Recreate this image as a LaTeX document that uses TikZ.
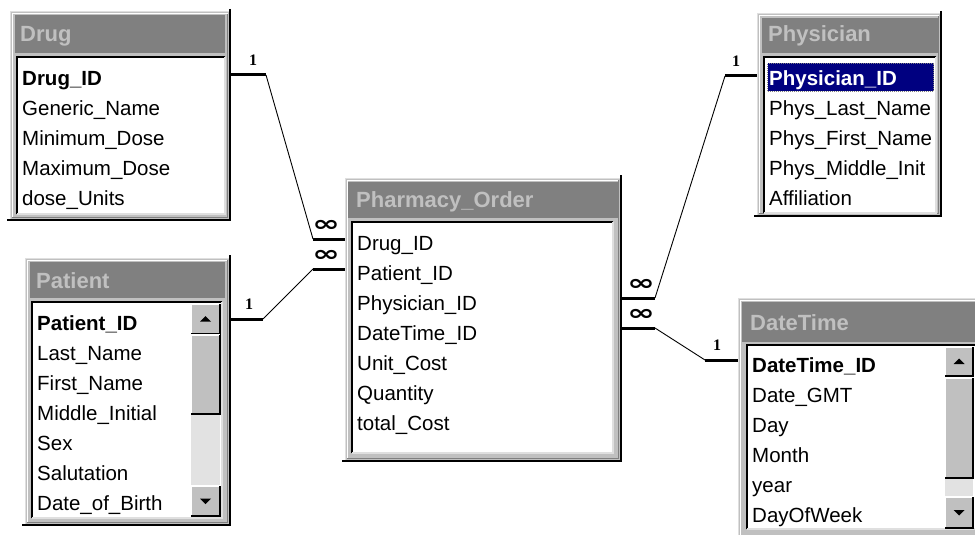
\documentclass[tikz,border=0pt]{standalone}
\usepackage{fontspec}
\setmainfont{Liberation Sans}
\newfontfamily\symfont{DejaVu Sans}
\newfontfamily\onefont{Liberation Serif}

\definecolor{winface}{HTML}{C0C0C0}
\definecolor{winshade}{HTML}{808080}
\definecolor{winlight}{HTML}{DFDFDF}
\definecolor{navysel}{HTML}{000080}
\definecolor{tracktone}{HTML}{E2E2E2}

\tikzset{
  winframe/.style={draw=winlight, line width=1pt, fill=winface, inner sep=0, outer sep=0, anchor=north west},
  titlebar/.style={fill=winshade, inner sep=0, outer sep=0, anchor=north west},
  listbox/.style={fill=white, inner sep=0, outer sep=0, anchor=north west},
  btn/.style={fill=winface, inner sep=0, outer sep=0, anchor=north west},
  trackbox/.style={fill=tracktone, inner sep=0, outer sep=0, anchor=north west},
  fieldtext/.style={anchor=base west, inner sep=0, font=\fontsize{20.5}{24}\selectfont},
  keytext/.style={anchor=base west, inner sep=0, font=\fontsize{20.5}{24}\selectfont\bfseries},
  titletext/.style={anchor=base west, inner sep=0, text=winface, font=\fontsize{22}{26}\selectfont\bfseries},
  onelabel/.style={inner sep=0, font=\fontsize{16}{18}\selectfont\onefont\bfseries},
  manylabel/.style={inner sep=0, font=\fontsize{22}{24}\selectfont\symfont\bfseries},
  stub/.style={line width=3pt, line cap=butt},
  link/.style={line width=0.9pt},
}

% raised window frame with a dark edge on the right and bottom
\newcommand{\tableframe}[1]{%
  \draw[white, line width=1pt] ([xshift=2pt,yshift=2.5pt]#1.south west) -- ([xshift=2pt,yshift=-2pt]#1.north west) -- ([xshift=-2.5pt,yshift=-2pt]#1.north east);
  \draw[winshade, line width=1pt] ([xshift=-2.5pt,yshift=-2pt]#1.north east) -- ([xshift=-2.5pt,yshift=2.5pt]#1.south east) -- ([xshift=2pt,yshift=2.5pt]#1.south west);
  \draw[black, line width=2pt] ([yshift=3pt]#1.north east) -- (#1.south east) -- ([xshift=-3pt]#1.south west);}

% two-tone edge of a box: #2 on top/left, #3 on bottom/right
\newcommand{\bevel}[4]{%
  \draw[#2, line width=#4] (#1.south west) -- (#1.north west) -- (#1.north east);
  \draw[#3, line width=#4] (#1.north east) -- (#1.south east) -- (#1.south west);}

% scroll arrows
\newcommand{\uparrowmark}[1]{\fill (#1.center) ++(-5.5,2.5) -- ++(11,0) -- ++(-5.5,-5.5) -- cycle;}
\newcommand{\downarrowmark}[1]{\fill (#1.center) ++(-5.5,-2.5) -- ++(11,0) -- ++(-5.5,5.5) -- cycle;}

% "many" end mark
\newcommand{\manymark}{\scalebox{1.5}[1]{∞}}

\begin{document}
\begin{tikzpicture}[x=1pt,y=-1pt]
\useasboundingbox (0,0) rectangle (975,535);
\fill[white] (0,0) rectangle (975,535);
\clip (0,0) rectangle (975,535);

%% ---------------- Drug ----------------
\node[winframe, minimum width=220pt, minimum height=208pt] (drug) at (10,12) {};
\tableframe{drug}
\node[titlebar, minimum width=210pt, minimum height=38pt] (drug-bar) at (15,15) {};
\node[titletext] (drug-title) at (20,42) {Drug};
\node[listbox, minimum width=208pt, minimum height=157pt] (drug-list) at (17,57) {};
\bevel{drug-list}{black}{winlight}{1.5pt}
\node[keytext] (drug-f1) at (22,85.5) {Drug\_ID};
\node[fieldtext] (drug-f2) at (22,115.5) {Generic\_Name};
\node[fieldtext] (drug-f3) at (22,145.5) {Minimum\_Dose};
\node[fieldtext] (drug-f4) at (22,175.5) {Maximum\_Dose};
\node[fieldtext] (drug-f5) at (22,205.5) {dose\_Units};

%% ---------------- Patient ----------------
\node[winframe, minimum width=205pt, minimum height=267pt] (patient) at (25,258) {};
\tableframe{patient}
\node[titlebar, minimum width=195pt, minimum height=36pt] (patient-bar) at (30,262) {};
\node[titletext] (patient-title) at (36,288) {Patient};
\node[listbox, minimum width=190pt, minimum height=216pt] (patient-list) at (32,302) {};
\bevel{patient-list}{black}{winlight}{1.5pt}
\node[keytext] (patient-f1) at (37,330.5) {Patient\_ID};
\node[fieldtext] (patient-f2) at (37,360.5) {Last\_Name};
\node[fieldtext] (patient-f3) at (37,390.5) {First\_Name};
\node[fieldtext] (patient-f4) at (37,420.5) {Middle\_Initial};
\node[fieldtext] (patient-f5) at (37,450.5) {Sex};
\node[fieldtext] (patient-f6) at (37,480.5) {Salutation};
\node[fieldtext] (patient-f7) at (37,510.5) {Date\_of\_Birth};
% scroll bar
\node[trackbox, minimum width=29pt, minimum height=212pt] (patient-track) at (191,304) {};
\node[btn, minimum width=29pt, minimum height=30pt] (patient-up) at (191,304) {};
\bevel{patient-up}{white}{black}{1.3pt}
\uparrowmark{patient-up}
\node[btn, minimum width=29pt, minimum height=79pt] (patient-thumb) at (191,335) {};
\bevel{patient-thumb}{white}{black}{1.3pt}
\node[btn, minimum width=29pt, minimum height=30pt] (patient-down) at (191,486) {};
\bevel{patient-down}{white}{black}{1.3pt}
\downarrowmark{patient-down}

%% ---------------- Pharmacy_Order ----------------
\node[winframe, minimum width=276pt, minimum height=283pt] (order) at (345,178) {};
\tableframe{order}
\node[titlebar, minimum width=270pt, minimum height=36pt] (order-bar) at (348,182) {};
\node[titletext] (order-title) at (356,207) {Pharmacy\_Order};
\node[listbox, minimum width=261pt, minimum height=231pt] (order-list) at (352,222) {};
\bevel{order-list}{black}{winlight}{1.5pt}
\node[fieldtext] (order-f1) at (357,250.5) {Drug\_ID};
\node[fieldtext] (order-f2) at (357,280.5) {Patient\_ID};
\node[fieldtext] (order-f3) at (357,310.5) {Physician\_ID};
\node[fieldtext] (order-f4) at (357,340.5) {DateTime\_ID};
\node[fieldtext] (order-f5) at (357,370.5) {Unit\_Cost};
\node[fieldtext] (order-f6) at (357,400.5) {Quantity};
\node[fieldtext] (order-f7) at (357,430.5) {total\_Cost};

%% ---------------- Physician ----------------
\node[winframe, minimum width=184pt, minimum height=202pt] (physician) at (757,14) {};
\tableframe{physician}
\node[titlebar, minimum width=176pt, minimum height=35pt] (physician-bar) at (762,18) {};
\node[titletext] (physician-title) at (768,42) {Physician};
\node[listbox, minimum width=172pt, minimum height=156pt] (physician-list) at (764,57) {};
\bevel{physician-list}{black}{winlight}{1.5pt}
\node[fill=navysel, draw=winshade, densely dotted, line width=1pt, inner sep=0, anchor=north west,
      minimum width=166pt, minimum height=28pt] (physician-sel) at (767,63) {};
\node[keytext, text=white] (physician-f1) at (769,85.5) {Physician\_ID};
\node[fieldtext] (physician-f2) at (769,115.5) {Phys\_Last\_Name};
\node[fieldtext] (physician-f3) at (769,145.5) {Phys\_First\_Name};
\node[fieldtext] (physician-f4) at (769,175.5) {Phys\_Middle\_Init};
\node[fieldtext] (physician-f5) at (769,205.5) {Affiliation};

%% ---------------- DateTime ----------------
\node[winframe, minimum width=262pt, minimum height=247pt] (datetime) at (738,298) {};
\tableframe{datetime}
\node[titlebar, minimum width=248pt, minimum height=40pt] (datetime-bar) at (742,302) {};
\node[titletext] (datetime-title) at (750,330) {DateTime};
\node[listbox, minimum width=229pt, minimum height=184pt] (datetime-list) at (747,345) {};
\bevel{datetime-list}{black}{winlight}{1.5pt}
\node[keytext] (datetime-f1) at (752,372.5) {DateTime\_ID};
\node[fieldtext] (datetime-f2) at (752,402.5) {Date\_GMT};
\node[fieldtext] (datetime-f3) at (752,432.5) {Day};
\node[fieldtext] (datetime-f4) at (752,462.5) {Month};
\node[fieldtext] (datetime-f5) at (752,492.5) {year};
\node[fieldtext] (datetime-f6) at (752,522.5) {DayOfWeek};
% scroll bar
\node[trackbox, minimum width=28pt, minimum height=181pt] (datetime-track) at (945,347) {};
\node[btn, minimum width=28pt, minimum height=29pt] (datetime-up) at (945,347) {};
\bevel{datetime-up}{white}{black}{1.3pt}
\uparrowmark{datetime-up}
\node[btn, minimum width=28pt, minimum height=100pt] (datetime-thumb) at (945,378) {};
\bevel{datetime-thumb}{white}{black}{1.3pt}
\node[btn, minimum width=28pt, minimum height=31pt] (datetime-down) at (945,497) {};
\bevel{datetime-down}{white}{black}{1.3pt}
\downarrowmark{datetime-down}

%% ---------------- relationships ----------------
% Drug 1 -- many Pharmacy_Order
\coordinate (r1a) at (266,75);
\coordinate (r1b) at (313,239);
\draw[stub] (drug.east |- r1a) -- (r1a);
\draw[link] (r1a) -- (r1b);
\draw[stub] (r1b) -- (order.west |- r1b);
\node[onelabel] (r1one) at (253,60) {1};
\node[manylabel] (r1many) at (326,226) {\manymark};

% Patient 1 -- many Pharmacy_Order
\coordinate (r2a) at (263,319);
\coordinate (r2b) at (313,269);
\draw[stub] (patient.east |- r2a) -- (r2a);
\draw[link] (r2a) -- (r2b);
\draw[stub] (r2b) -- (order.west |- r2b);
\node[onelabel] (r2one) at (249,304) {1};
\node[manylabel] (r2many) at (326,256) {\manymark};

% Physician 1 -- many Pharmacy_Order
\coordinate (r3a) at (655,298);
\coordinate (r3b) at (725,76);
\draw[stub] (order.east |- r3a) -- (r3a);
\draw[link] (r3a) -- (r3b);
\draw[stub] (r3b) -- (physician.west |- r3b);
\node[manylabel] (r3many) at (641,285) {\manymark};
\node[onelabel] (r3one) at (736,61) {1};

% DateTime 1 -- many Pharmacy_Order
\coordinate (r4a) at (655,328);
\coordinate (r4b) at (705,360);
\draw[stub] (order.east |- r4a) -- (r4a);
\draw[link] (r4a) -- (r4b);
\draw[stub] (r4b) -- (datetime.west |- r4b);
\node[manylabel] (r4many) at (641,315) {\manymark};
\node[onelabel] (r4one) at (717,345) {1};
\end{tikzpicture}
\end{document}
